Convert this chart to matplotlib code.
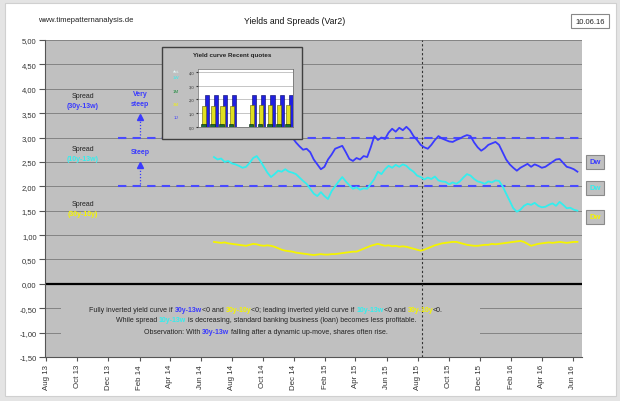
import matplotlib
matplotlib.use("Agg")
import matplotlib.pyplot as plt
import matplotlib.dates as mdates
import matplotlib.ticker as mticker
from matplotlib.patches import Rectangle
import pandas as pd
import numpy as np

plt.rcParams['font.family'] = ['Liberation Sans', 'DejaVu Sans']

# ---------------- data ----------------
start_date = "2014-06-27"
spread_30y_13w = [3.30, 3.35, 3.28, 3.20, 3.25, 3.15, 3.10, 3.05, 3.12, 3.20,
                  3.28, 3.35, 3.40, 3.30, 3.20, 3.10, 3.05, 3.12, 3.15, 3.08,
                  3.10, 3.05, 3.00, 2.90, 2.82, 2.75, 2.77, 2.70, 2.55, 2.45,
                  2.35, 2.40, 2.55, 2.65, 2.77, 2.80, 2.83, 2.70, 2.56, 2.52,
                  2.58, 2.55, 2.62, 2.60, 2.80, 3.03, 2.95, 3.00, 2.97, 3.10,
                  3.18, 3.12, 3.20, 3.15, 3.22, 3.15, 3.03, 2.95, 2.85, 2.80,
                  2.77, 2.85, 2.95, 3.03, 2.98, 2.95, 2.92, 2.91, 2.95, 2.98,
                  3.02, 3.05, 3.03, 2.90, 2.80, 2.73, 2.78, 2.85, 2.88, 2.91,
                  2.85, 2.70, 2.55, 2.45, 2.38, 2.32, 2.38, 2.42, 2.46, 2.40,
                  2.45, 2.42, 2.38, 2.40, 2.45, 2.50, 2.55, 2.56, 2.48, 2.40,
                  2.38, 2.35, 2.30]
spread_10y_13w = [2.60, 2.55, 2.57, 2.50, 2.52, 2.47, 2.45, 2.42, 2.38, 2.40,
                  2.48, 2.58, 2.62, 2.52, 2.40, 2.28, 2.19, 2.25, 2.32, 2.30,
                  2.35, 2.30, 2.28, 2.25, 2.18, 2.11, 2.05, 1.95, 1.85, 1.80,
                  1.88, 1.80, 1.74, 1.90, 2.00, 2.10, 2.19, 2.10, 2.02, 1.95,
                  1.98, 1.93, 1.96, 1.95, 2.05, 2.15, 2.30, 2.25, 2.35, 2.42,
                  2.38, 2.44, 2.40, 2.45, 2.42, 2.35, 2.30, 2.22, 2.19, 2.14,
                  2.18, 2.15, 2.20, 2.12, 2.10, 2.09, 2.04, 2.08, 2.05, 2.10,
                  2.18, 2.25, 2.22, 2.15, 2.10, 2.08, 2.05, 2.10, 2.08, 2.12,
                  2.11, 2.00, 1.85, 1.70, 1.55, 1.48, 1.52, 1.60, 1.64, 1.62,
                  1.66, 1.60, 1.57, 1.58, 1.62, 1.65, 1.60, 1.68, 1.62, 1.55,
                  1.56, 1.52, 1.50]
spread_30y_10y = [0.86, 0.85, 0.84, 0.85, 0.83, 0.82, 0.81, 0.80, 0.79, 0.78,
                  0.80, 0.82, 0.81, 0.79, 0.78, 0.79, 0.78, 0.76, 0.73, 0.70,
                  0.68, 0.67, 0.66, 0.64, 0.63, 0.62, 0.61, 0.60, 0.59, 0.60,
                  0.61, 0.60, 0.60, 0.61, 0.61, 0.62, 0.63, 0.64, 0.65, 0.66,
                  0.66, 0.69, 0.72, 0.75, 0.78, 0.80, 0.82, 0.80, 0.78, 0.79,
                  0.77, 0.78, 0.76, 0.77, 0.76, 0.74, 0.72, 0.70, 0.68, 0.70,
                  0.73, 0.76, 0.79, 0.81, 0.83, 0.84, 0.85, 0.86, 0.86, 0.84,
                  0.82, 0.80, 0.79, 0.78, 0.78, 0.79, 0.80, 0.80, 0.82, 0.81,
                  0.82, 0.83, 0.84, 0.85, 0.86, 0.87, 0.88, 0.86, 0.82, 0.78,
                  0.80, 0.82, 0.83, 0.84, 0.85, 0.84, 0.85, 0.86, 0.85, 0.84,
                  0.85, 0.86, 0.86]
dates = pd.date_range(start_date, periods=len(spread_30y_13w), freq="7D")

threshold_levels = [3.0, 2.0]
marker_date = "2015-08-10"
x_range = ("2013-07-30", "2016-06-19")
y_ticks = [5.0, 4.5, 4.0, 3.5, 3.0, 2.5, 2.0, 1.5, 1.0, 0.5, 0.0, -0.5, -1.0, -1.5]

inset_pos = [0, 1, 2, 3, 5.2, 6.2, 7.2, 8.2, 9.2]
inset_blue = [2.30, 2.30, 2.30, 2.30, 2.30, 2.30, 2.30, 2.30, 2.30]
inset_yellow = [1.55, 1.55, 1.55, 1.55, 1.60, 1.60, 1.60, 1.60, 1.60]
inset_green = [0.25, 0.25, 0.25, 0.25, 0.25, 0.25, 0.25, 0.25, 0.25]

BLUE = '#3a3aff'
DASH = '#4a4aff'
CYAN = '#33eeee'
YEL = '#f4f400'
BG = '#c0c0c0'

W, H = 620, 402
fig = plt.figure(figsize=(6.2, 4.02), dpi=100)
fig.patch.set_facecolor('#e4e4e4')


def fx(x):
    return x / W


def fy(y):
    return 1 - y / H


def rect_px(x0, y0, x1, y1, **kw):
    r = Rectangle((fx(x0), fy(y1)), (x1 - x0) / W, (y1 - y0) / H,
                  transform=fig.transFigure, **kw)
    fig.add_artist(r)
    return r


rect_px(5, 4, 616, 397, facecolor='white', edgecolor='#d0d0d0', lw=0.8, zorder=-10)

ax = fig.add_axes([fx(45), fy(358), 537 / W, 317 / H])
ax.set_facecolor(BG)
ax.set_zorder(1)
ax.set_xlim(pd.Timestamp(x_range[0]), pd.Timestamp(x_range[1]))
ax.set_ylim(-1.5, 5.0)
ax.set_yticks(y_ticks)
ax.yaxis.set_major_formatter(mticker.FuncFormatter(lambda v, p: f"{v:.2f}".replace('.', ',')))
ax.grid(axis='y', color='#7a7a7a', lw=0.6)
ax.set_axisbelow(True)
ax.xaxis.set_major_locator(mdates.MonthLocator(bymonth=[2, 4, 6, 8, 10, 12]))
ax.xaxis.set_major_formatter(mdates.DateFormatter('%b %y'))
for lab in ax.get_xticklabels():
    lab.set_rotation(90)
ax.tick_params(axis='x', labelsize=5.7, length=3, color='#555555', labelcolor='#333333', pad=2)
ax.tick_params(axis='y', labelsize=5.5, length=4, color='#555555', labelcolor='#333333', pad=2)
for s in ['top', 'right']:
    ax.spines[s].set_visible(False)
for s in ['left', 'bottom']:
    ax.spines[s].set_color('#555555')
    ax.spines[s].set_linewidth(0.8)

ax.axhline(0, color='black', lw=1.6, zorder=2)
ax.hlines(threshold_levels, pd.Timestamp("2013-12-20"), pd.Timestamp(x_range[1]),
          colors=DASH, linestyles=(0, (4, 3)), lw=1.5, zorder=2)
ax.axvline(pd.Timestamp(marker_date), color='#333333', lw=0.8, ls=(0, (2, 2)), zorder=2)

ax.plot(dates, spread_30y_13w, color=BLUE, lw=1.3, zorder=3)
ax.plot(dates, spread_10y_13w, color=CYAN, lw=1.3, zorder=3)
ax.plot(dates, spread_30y_10y, color=YEL, lw=1.3, zorder=3)

# gray box behind bottom text (hides gridlines)
ax.add_patch(Rectangle((0.03, 0.055), 0.78, 0.13, transform=ax.transAxes,
                       facecolor=BG, edgecolor='none', zorder=1.5))

# ---------------- header ----------------
fig.text(fx(38), fy(20), "www.timepatternanalysis.de", fontsize=5.5, color='#222222', va='center')
fig.text(fx(295), fy(22), "Yields and Spreads (Var2)", fontsize=6.2, color='#111111', va='center', ha='center')
fig.text(fx(590), fy(22), "10.06.16", fontsize=5.5, color='#222222', va='center', ha='center',
         bbox=dict(boxstyle='square,pad=0.5', facecolor='white', edgecolor='#888888', lw=0.8))

# ---------------- left annotations ----------------
def ftxt(x, y, s, c, **kw):
    kw.setdefault('fontsize', 5)
    return fig.text(fx(x), fy(y), s, color=c, ha='center', va='center', zorder=10, **kw)


ftxt(83, 96, "Spread", '#222222')
ftxt(83, 106, "(30y-13w)", BLUE, fontweight='bold')
ftxt(140, 95, "Very", BLUE, fontweight='bold')
ftxt(140, 105, "steep", BLUE, fontweight='bold')
ftxt(83, 150, "Spread", '#222222')
ftxt(83, 160, "(10y-13w)", CYAN, fontweight='bold')
ftxt(140, 153, "Steep", BLUE, fontweight='bold')
ftxt(83, 205, "Spread", '#222222')
ftxt(83, 215, "(30y-10y)", YEL, fontweight='bold')
for ytip, ybase in [(116, 136), (164, 185)]:
    fig.add_artist(plt.Line2D([fx(140), fx(140)], [fy(ybase), fy(ytip + 4)],
                              color=BLUE, lw=0.9, ls=(0, (1, 1.5)), transform=fig.transFigure, zorder=10))
    fig.add_artist(plt.Line2D([fx(140)], [fy(ytip + 2)], marker='^', ms=4, color=BLUE,
                              transform=fig.transFigure, zorder=10))

# ---------------- right labels ----------------
for y, c in [(163, BLUE), (189, CYAN), (218, YEL)]:
    fig.text(fx(595), fy(y), "Dw", fontsize=5.5, color=c, ha='center', va='center', fontweight='bold',
             bbox=dict(boxstyle='square,pad=0.45', facecolor=BG, edgecolor='#8a8a8a', lw=0.8))

# ---------------- bottom text ----------------
renderer = fig.canvas.get_renderer()


def seg_line(segs, cx, y, fs=5):
    items = []
    total = 0
    for s, c in segs:
        t = fig.text(0, fy(y), s, color=c, fontsize=fs, va='center', ha='left', zorder=10,
                     fontweight='bold' if c != '#222222' else 'normal')
        w = t.get_window_extent(renderer).width
        items.append((t, w))
        total += w
    x = cx - total / 2
    for t, w in items:
        t.set_x(fx(x))
        x += w


K = '#222222'
seg_line([("Fully inverted yield curve if ", K), ("30y-13w", BLUE), ("<0 and ", K), ("30y-10y", YEL),
          ("<0; leading inverted yield curve if ", K), ("10y-13w", CYAN), ("<0 and ", K),
          ("30y-10y", YEL), ("<0.", K)], 266, 310)
seg_line([("While spread ", K), ("10y-13w", CYAN),
          (" is decreasing, standard banking business (loan) becomes less profitable.", K)], 266, 321)
seg_line([("Observation: With ", K), ("30y-13w", BLUE),
          (" falling after a dynamic up-move, shares often rise.", K)], 266, 333)

# ---------------- inset ----------------
rect_px(162, 48, 302, 140, facecolor=BG, edgecolor='#404040', lw=1.0, zorder=5)
fig.text(fx(232), fy(55), "Yield curve Recent quotes", fontsize=4.5, fontweight='bold',
         color='#222222', ha='center', va='center', zorder=6)
for y, s, c in [(72, "akt.", '#e8ffff'), (78, "1W", CYAN), (92, "1M", '#1a8a3a'), (105, "3M", YEL), (118, "1J", BLUE)]:
    fig.text(fx(176), fy(y), s, fontsize=3.2, color=c, ha='center', va='center', zorder=6)
iax = fig.add_axes([fx(198), fy(128), 95 / W, 58 / H])
iax.set_zorder(6)
iax.set_facecolor('white')
iax.bar([p + 0.15 for p in inset_pos], inset_blue, width=0.45, color='#2020e0', edgecolor='#000060', lw=0.4, zorder=3)
iax.bar([p - 0.12 for p in inset_pos], inset_yellow, width=0.45, color='#e0e020', edgecolor='#606000', lw=0.4, zorder=3)
iax.bar([p - 0.2 for p in inset_pos], inset_green, width=0.5, color='#1a6a3a', edgecolor='#002000', lw=0.4, zorder=4)
iax.set_xlim(-0.8, 9.6)
iax.set_ylim(0, 4.2)
iax.set_yticks([0, 1, 2, 3, 4])
iax.yaxis.set_major_formatter(mticker.FuncFormatter(lambda v, p: f"{v:.1f}".replace('.', ',')))
iax.set_xticks([])
iax.tick_params(axis='y', labelsize=3, length=1.5, pad=1, colors='#333333')
iax.grid(axis='y', color='#999999', lw=0.4)
iax.set_axisbelow(True)
for s in iax.spines.values():
    s.set_color('#666666')
    s.set_linewidth(0.5)

fig.savefig("out.png", dpi=100, facecolor=fig.get_facecolor())
